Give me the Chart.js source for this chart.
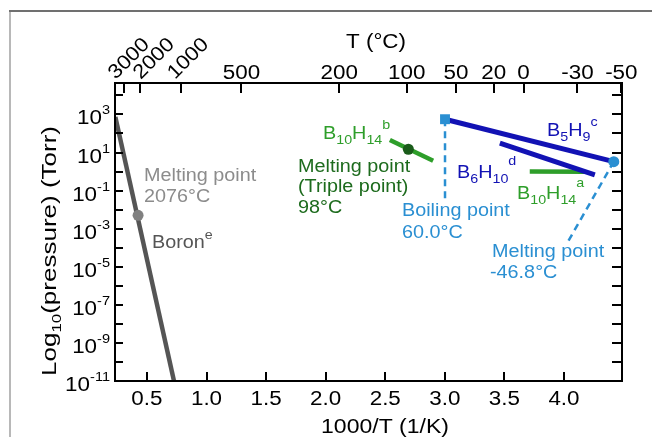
<!DOCTYPE html>
<html>
<head>
<meta charset="utf-8">
<script src="https://cdn.jsdelivr.net/npm/chart.js@4.4.1/dist/chart.umd.min.js"></script>
<style>
  html, body { margin: 0; padding: 0; background: #fff; }
  #wrap { width: 652px; height: 437px; }
</style>
</head>
<body>
<div id="wrap"><canvas id="chart" width="652" height="437"></canvas></div>
<script>
// data (x = 1000/T in 1/K, y = pressure in Torr)
const boronX = [0.235, 0.727];
const boronY = [740, 1e-11];
const boronMeltX = [0.4257];
const boronMeltY = [0.005];

const b5h9X = [3.0016, 4.418];
const b5h9Y = [560, 3.3];
const b6h10X = [3.462, 4.259];
const b6h10Y = [31, 0.66];
const b10h14aX = [3.713, 4.175];
const b10h14aY = [1.0, 0.98];
const b10h14bX = [2.539, 2.902];
const b10h14bY = [45.7, 3.7];
const tripleX = [2.694];
const tripleY = [14.8];

const boilX = [3.0016, 3.0016];
const boilY = [560, 0.026];
const meltX = [4.418, 4.03];
const meltY = [3.3, 1.9e-4];

const xTicks = [0.5, 1.0, 1.5, 2.0, 2.5, 3.0, 3.5, 4.0];
const xTickLabels = ["0.5", "1.0", "1.5", "2.0", "2.5", "3.0", "3.5", "4.0"];
const tempTicksC = [3000, 2000, 1000, 500, 200, 100, 50, 20, 0, -30, -50];
const tempTickLabels = ["3000", "2000", "1000", "500", "200", "100", "50", "20", "0", "-30", "-50"];
const tempRotated = [true, true, true, false, false, false, false, false, false, false, false];
const yTickExps = [-11, -10, -9, -8, -7, -6, -5, -4, -3, -2, -1, 0, 1, 2, 3, 4];
const yLabelExps = [3, 1, -1, -3, -5, -7, -9, -11];

const FONT = '"Liberation Sans", Arial, sans-serif';
const GREEN = "#2e9e2a";
const DKGREEN = "#1d6b1d";
const BLUE = "#1212b4";
const LTBLUE = "#2a8fd2";

function pts(xs, ys) {
    return xs.map((x, i) => ({x: x, y: ys[i]}));
}

// draws a run of text pieces: [text, size, dy]
function drawRich(ctx, segs, x, y, align, color, sx, angle) {
    ctx.save();
    ctx.fillStyle = color;
    ctx.textBaseline = "alphabetic";
    ctx.textAlign = "left";
    let w = 0;
    segs.forEach(s => {
        ctx.font = s[1] + "px " + FONT;
        w += ctx.measureText(s[0]).width;
    });
    let cx = align === "right" ? -w : (align === "center" ? -w / 2 : 0);
    ctx.translate(x, y);
    if (angle) ctx.rotate(angle);
    ctx.scale(sx, 1);
    segs.forEach(s => {
        ctx.font = s[1] + "px " + FONT;
        ctx.fillText(s[0], cx, s[2]);
        cx += ctx.measureText(s[0]).width;
    });
    ctx.restore();
}

const SUB = 13, SUP = 13;

const decor = {
    id: "decor",
    beforeDraw(chart) {
        const ctx = chart.ctx;
        ctx.save();
        ctx.fillStyle = "#fff";
        ctx.fillRect(0, 0, chart.width, chart.height);
        ctx.fillStyle = "#b8b8b8";
        ctx.fillRect(9, 10, 2, chart.height - 10);
        ctx.fillStyle = "#707070";
        ctx.fillRect(9, 10, chart.width - 9, 2);
        ctx.restore();
    },
    afterDraw(chart) {
        const ctx = chart.ctx;
        const a = chart.chartArea;
        const xs = chart.scales.x;
        const ys = chart.scales.y;
        ctx.save();
        ctx.strokeStyle = "#000";
        ctx.lineWidth = 2;
        ctx.strokeRect(a.left, a.top, a.right - a.left, a.bottom - a.top);

        ctx.beginPath();
        xTicks.forEach(v => {
            const px = Math.round(xs.getPixelForValue(v));
            ctx.moveTo(px, a.bottom);
            ctx.lineTo(px, a.bottom - 9);
        });
        tempTicksC.forEach(t => {
            const px = Math.round(xs.getPixelForValue(1000 / (t + 273.15)));
            ctx.moveTo(px, a.top);
            ctx.lineTo(px, a.top + 10);
        });
        yTickExps.forEach(e => {
            const py = Math.round(ys.getPixelForValue(Math.pow(10, e)));
            ctx.moveTo(a.left, py);
            ctx.lineTo(a.left + 8, py);
            ctx.moveTo(a.right, py);
            ctx.lineTo(a.right - 10, py);
        });
        ctx.stroke();

        // bottom axis
        xTicks.forEach((v, i) => {
            drawRich(ctx, [[xTickLabels[i], 20, 0]], xs.getPixelForValue(v), 405, "center", "#000", 1.12);
        });
        drawRich(ctx, [["1000/T (1/K)", 20, 0]], 385, 433, "center", "#000", 1.15);

        // top axis (the crowded rotated labels are spread a little)
        const spread = [-8, 1, -6];
        tempTicksC.forEach((t, i) => {
            const px = xs.getPixelForValue(1000 / (t + 273.15));
            if (tempRotated[i]) {
                drawRich(ctx, [[tempTickLabels[i], 20, 0]], px + spread[i], 80, "left", "#000", 1.1, -Math.PI / 4);
            } else {
                drawRich(ctx, [[tempTickLabels[i], 20, 0]], px, 79, "center", "#000", 1.12);
            }
        });
        drawRich(ctx, [["T (°C)", 20, 0]], 376, 48, "center", "#000", 1.12);

        // left axis
        yLabelExps.forEach(e => {
            const py = ys.getPixelForValue(Math.pow(10, e));
            drawRich(ctx, [["10", 20, 0], [String(e), SUP, -10]], 110, py + 10, "right", "#000", 1.12);
        });
        drawRich(ctx, [["Log", 20, 0], ["10", SUB, 5], ["(pressure) (Torr)", 20, 0]], 56, 251, "center", "#000", 1.3, -Math.PI / 2);

        // annotations
        const S = 18, SX = 1.1;
        drawRich(ctx, [["Melting point", S, 0]], 144, 181, "left", "#8c8c8c", SX);
        drawRich(ctx, [["2076°C", S, 0]], 144, 202, "left", "#8c8c8c", SX);
        drawRich(ctx, [["Boron", S, 0], ["e", SUP, -9]], 152, 248, "left", "#555", SX);

        drawRich(ctx, [["B", S, 0], ["10", SUB, 5], ["H", S, 0], ["14", SUB, 5], ["b", SUP, -10]], 323, 139, "left", GREEN, SX);
        drawRich(ctx, [["Melting point", S, 0]], 298, 172, "left", DKGREEN, SX);
        drawRich(ctx, [["(Triple point)", S, 0]], 298, 192, "left", DKGREEN, SX);
        drawRich(ctx, [["98°C", S, 0]], 298, 213, "left", DKGREEN, SX);

        drawRich(ctx, [["B", S, 0], ["5", SUB, 5], ["H", S, 0], ["9", SUB, 5], ["c", SUP, -10]], 547, 136, "left", BLUE, SX);
        drawRich(ctx, [["B", S, 0], ["6", SUB, 5], ["H", S, 0], ["10", SUB, 5], ["d", SUP, -13]], 457, 178, "left", BLUE, SX);
        drawRich(ctx, [["B", S, 0], ["10", SUB, 5], ["H", S, 0], ["14", SUB, 5], ["a", SUP, -12]], 517, 199, "left", GREEN, SX);

        drawRich(ctx, [["Boiling point", S, 0]], 402, 216, "left", LTBLUE, SX);
        drawRich(ctx, [["60.0°C", S, 0]], 402, 238, "left", LTBLUE, SX);
        drawRich(ctx, [["Melting point", S, 0]], 492, 257, "left", LTBLUE, SX);
        drawRich(ctx, [["-46.8°C", S, 0]], 490, 278, "left", LTBLUE, SX);
        ctx.restore();
    }
};

function lineSet(xs, ys, color, width, dash) {
    return {
        data: pts(xs, ys),
        showLine: true,
        borderColor: color,
        backgroundColor: color,
        borderWidth: width,
        borderDash: dash || [],
        pointRadius: 0,
        borderCapStyle: "butt"
    };
}

function markSet(xs, ys, color, style, r) {
    return {
        data: pts(xs, ys),
        showLine: false,
        pointStyle: style,
        pointRadius: r,
        pointBackgroundColor: color,
        pointBorderColor: color,
        pointBorderWidth: 0
    };
}

new Chart(document.getElementById("chart"), {
    type: "scatter",
    data: {
        datasets: [
            markSet(boronMeltX, boronMeltY, "#808080", "circle", 5.5),
            markSet(tripleX, tripleY, "#1a5c1a", "circle", 5.5),
            markSet([b5h9X[0]], [b5h9Y[0]], LTBLUE, "rect", 7),
            markSet([b5h9X[1]], [b5h9Y[1]], LTBLUE, "circle", 5.5),
            lineSet(boronX, boronY, "#555555", 4.5),
            lineSet(b5h9X, b5h9Y, BLUE, 5),
            lineSet(b6h10X, b6h10Y, BLUE, 5),
            lineSet(b10h14aX, b10h14aY, GREEN, 4.5),
            lineSet(b10h14bX, b10h14bY, GREEN, 4.5),
            lineSet(boilX, boilY, LTBLUE, 2.5, [7, 5]),
            lineSet(meltX, meltY, LTBLUE, 2.5, [7, 5])
        ]
    },
    options: {
        responsive: false,
        animation: false,
        events: [],
        layout: { padding: { left: 115, top: 83, right: 30, bottom: 56 } },
        plugins: { legend: { display: false }, tooltip: { enabled: false } },
        scales: {
            x: { type: "linear", min: 0.232, max: 4.487, display: false },
            y: { type: "logarithmic", min: 1e-11, max: Math.pow(10, 4.65), display: false }
        }
    },
    plugins: [decor]
});
</script>
</body>
</html>
